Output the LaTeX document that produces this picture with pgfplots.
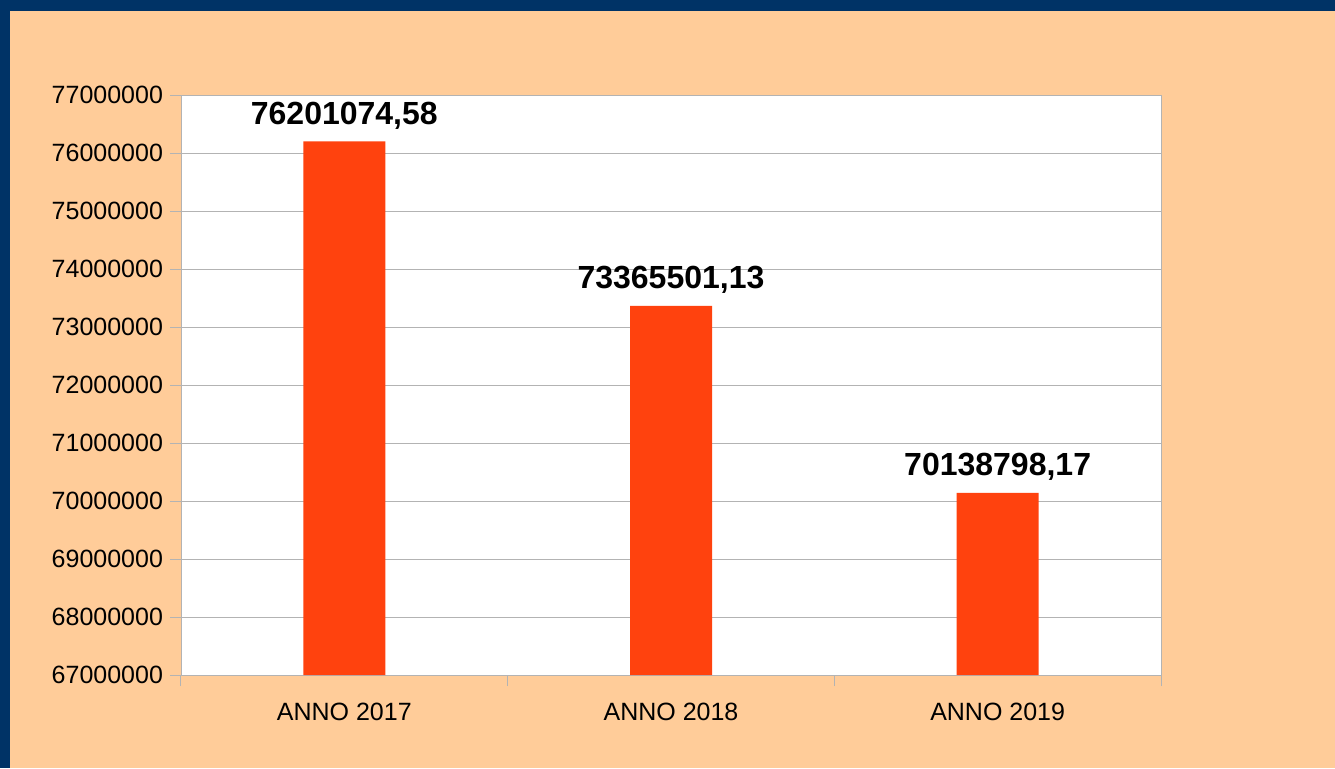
\documentclass[border=0pt]{standalone}
\usepackage{pgfplots}
\pgfplotsset{compat=1.18}
\usepackage{fontspec}
\setmainfont{Liberation Sans}
\definecolor{peach}{HTML}{FFCC99}
\definecolor{navy}{HTML}{003366}
\definecolor{barred}{HTML}{FF420E}
\definecolor{gridgrey}{HTML}{B3B3B3}
\begin{document}
\begin{tikzpicture}
  % background, 1335x768 px at 0.5pt per px
  \fill[peach] (0pt,0pt) rectangle (667.5pt,384pt);
  \fill[navy] (0pt,378.5pt) rectangle (667.5pt,384pt);
  \fill[navy] (0pt,0pt) rectangle (5pt,384pt);
  \begin{axis}[
      at={(90.5pt,46.5pt)}, anchor=south west,
      scale only axis,
      width=490pt, height=290pt,
      axis background/.style={fill=white},
      axis line style={gridgrey},
      ymin=67000000, ymax=77000000,
      ytick distance=1000000,
      scaled y ticks=false,
      yticklabel style={/pgf/number format/fixed, /pgf/number format/1000 sep={}},
      /pgf/number format/assume math mode=true,
      ymajorgrids, grid style={gridgrey, line width=0.5pt},
      xmin=-0.5, xmax=2.5,
      xtick={-0.5,0.5,1.5,2.5},
      x tick label as interval,
      xticklabels={ANNO 2017, ANNO 2018, ANNO 2019},
      xtick pos=bottom, ytick pos=left,
      tick align=outside,
      major tick length=5.5pt,
      tick style={gridgrey, line width=0.5pt},
      tick label style={font=\fontsize{12.5}{14}\selectfont, black},
      xticklabel style={yshift=-5pt},
      ybar, bar width=41pt,
      nodes near coords,
      point meta=explicit symbolic,
      every node near coord/.append style={font=\fontsize{16}{18}\selectfont\bfseries, black, yshift=2.5pt},
    ]
    \addplot[fill=barred, draw=none] coordinates {
      (0,76201074.58) [76201074,58]
      (1,73365501.13) [73365501,13]
      (2,70138798.17) [70138798,17]
    };
  \end{axis}
\end{tikzpicture}
\end{document}
